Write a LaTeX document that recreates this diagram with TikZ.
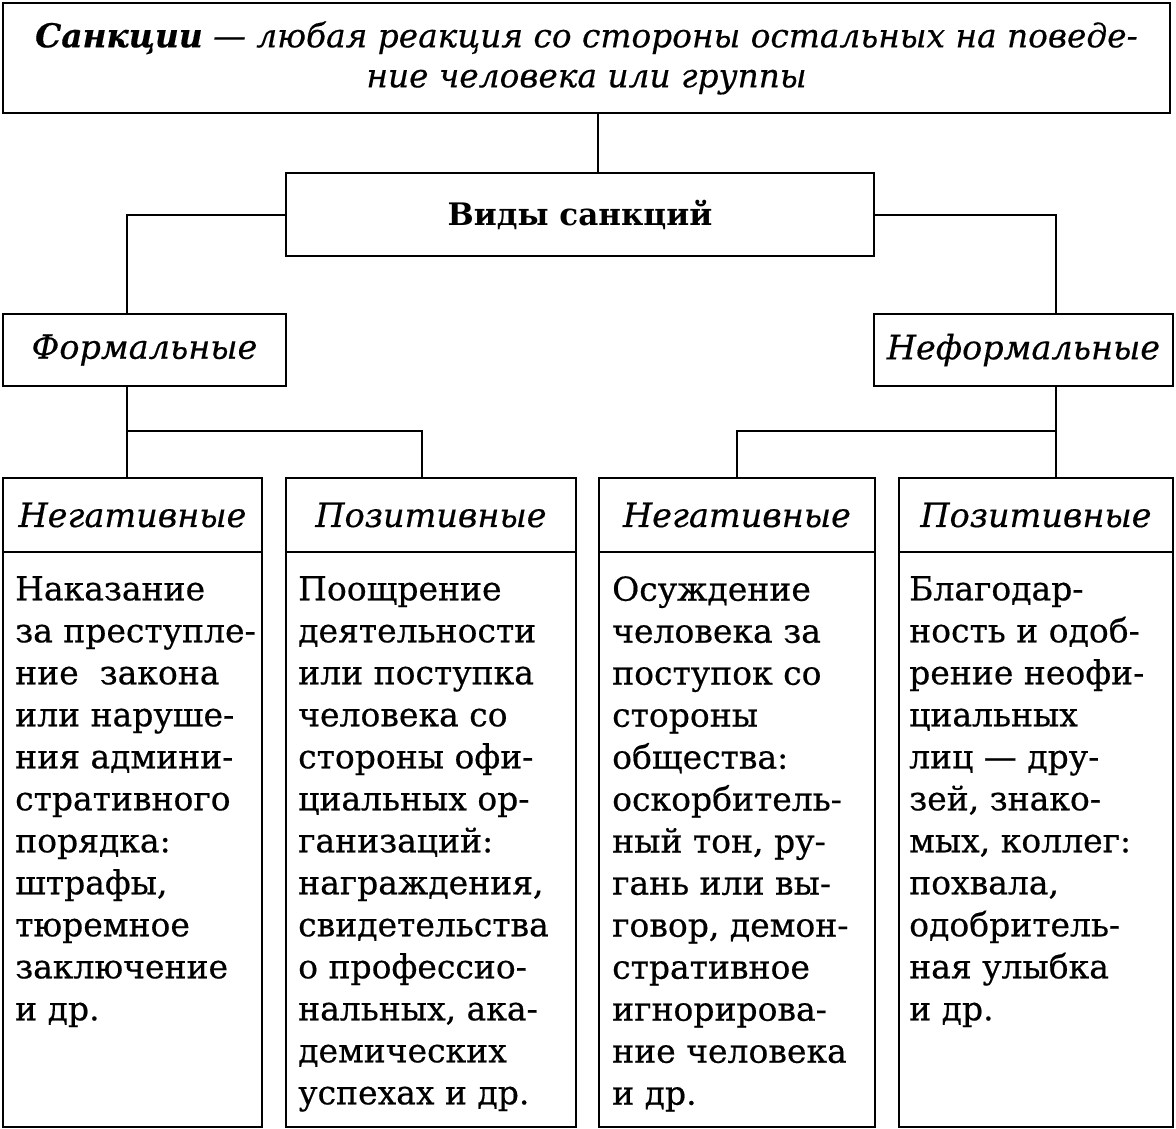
\documentclass[tikz,border=0pt]{standalone}
\usepackage{fontspec}
\setmainfont{DejaVu Serif}
\newfontfamily\bodyfont{DejaVu Serif}[FakeBold=0.5]
\newfontfamily\hdrfont{DejaVu Serif}[FakeBold=0.4]
\begin{document}
\begin{tikzpicture}[x=1pt,y=-1pt,
  box/.style={draw,line width=2pt,rectangle,inner sep=0pt},
  hdr/.style={box,font=\fontsize{33.5}{38}\hdrfont\itshape},
  bodytxt/.style={anchor=north west,align=left,inner sep=0pt,font=\fontsize{33}{42}\bodyfont},
  conn/.style={line width=2pt}]
\useasboundingbox (0,0) rectangle (1176,1129);
% top definition box
\node[box,minimum width=1167pt,minimum height=110pt,align=center,font=\fontsize{32.8}{40}\hdrfont\itshape] (top) at (586.5,58)
  {\textbf{Санкции} — любая реакция со стороны остальных на поведе-\\ние человека или группы};
\node[box,minimum width=588pt,minimum height=83pt,font=\fontsize{31}{36}\selectfont\bfseries] (vid) at (580,214.5) {Виды санкций};
\node[hdr,minimum width=283pt,minimum height=72pt] (form) at (144.5,350) {Формальные};
\node[hdr,minimum width=299pt,minimum height=72pt] (neform) at (1023.5,350) {Неформальные};
% column headers
\node[hdr,minimum width=259pt,minimum height=74pt] (h1) at (132.5,515) {Негативные};
\node[hdr,minimum width=290pt,minimum height=74pt] (h2) at (431,515) {Позитивные};
\node[hdr,minimum width=276pt,minimum height=74pt] (h3) at (737,515) {Негативные};
\node[hdr,minimum width=274pt,minimum height=74pt] (h4) at (1036,515) {Позитивные};
% column bodies
\node[box,minimum width=259pt,minimum height=575pt] (b1) at (132.5,839.5) {};
\node[box,minimum width=290pt,minimum height=575pt] (b2) at (431,839.5) {};
\node[box,minimum width=276pt,minimum height=575pt] (b3) at (737,839.5) {};
\node[box,minimum width=274pt,minimum height=575pt] (b4) at (1036,839.5) {};
\node[bodytxt] (t1) at (15,576) {Наказание\\за преступле-\\ние\ \ закона\\или наруше-\\ния админи-\\стративного\\порядка:\\штрафы,\\тюремное\\заключение\\и др.};
\node[bodytxt] (t2) at (298,576) {Поощрение\\деятельности\\или поступка\\человека со\\стороны офи-\\циальных ор-\\ганизаций:\\награждения,\\свидетельства\\о профессио-\\нальных, ака-\\демических\\успехах и др.};
\node[bodytxt] (t3) at (612,576) {Осуждение\\человека за\\поступок со\\стороны\\общества:\\оскорбитель-\\ный тон, ру-\\гань или вы-\\говор, демон-\\стративное\\игнорирова-\\ние человека\\и др.};
\node[bodytxt] (t4) at (909,576) {Благодар-\\ность и одоб-\\рение неофи-\\циальных\\лиц — дру-\\зей, знако-\\мых, коллег:\\похвала,\\одобритель-\\ная улыбка\\и др.};
% connector helpers
\coordinate (xa) at (598,0);
\coordinate (xf) at (127,0);
\coordinate (xn) at (1056,0);
\coordinate (x2) at (422,0);
\coordinate (x3) at (737,0);
\coordinate (yb) at (0,431);
\draw[conn] (top.south -| xa) -- (vid.north -| xa);
\draw[conn] (vid.west) -| (form.north -| xf);
\draw[conn] (vid.east) -| (neform.north -| xn);
\draw[conn] (form.south -| xf) -- (h1.north -| xf);
\draw[conn] (xf |- yb) -| (h2.north -| x2);
\draw[conn] (neform.south -| xn) -- (h4.north -| xn);
\draw[conn] (xn |- yb) -| (h3.north -| x3);
\end{tikzpicture}
\end{document}
